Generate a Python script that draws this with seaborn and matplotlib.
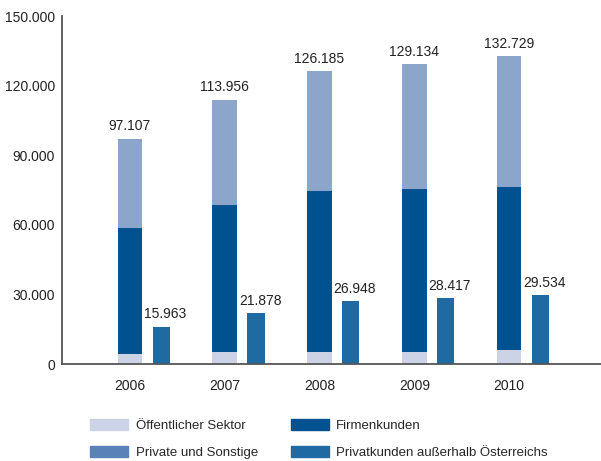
import matplotlib
matplotlib.use("Agg")
import matplotlib.pyplot as plt
import matplotlib.patches as mpatches
import seaborn as sns
import pandas as pd

years = [2006, 2007, 2008, 2009, 2010]
oeffentlich = [4400, 5300, 5300, 5300, 6200]
firmenkunden = [54300, 63300, 69300, 70200, 70200]
totals = [97107, 113956, 126185, 129134, 132729]
ausland = [15963, 21878, 26948, 28417, 29534]

labels = ["Öffentlicher Sektor", "Private und Sonstige", "Firmenkunden",
          "Privatkunden außerhalb Österreichs"]

c_oeff = "#cdd3e6"
c_priv = "#8ba6ca"
c_priv_leg = "#5b82b8"
c_firm = "#00518f"
c_ausl = "#206aa3"

df = pd.DataFrame({
    "year": years,
    "public": oeffentlich,
    "firm_top": [p + f for p, f in zip(oeffentlich, firmenkunden)],
    "total": totals,
    "ausland": ausland,
})
df["x_out"] = df["year"] + 0.33

sns.set_style("white")
plt.rcParams["font.family"] = ["Liberation Sans", "DejaVu Sans"]

fig = plt.figure(figsize=(6.01, 4.61), dpi=100)
ax = fig.add_axes([62 / 601, 97 / 461, 1 - 62 / 601, 348 / 461])

w_main = 0.26
w_out = 0.18
sns.barplot(data=df, x="year", y="total", native_scale=True, width=w_main,
            color=c_priv, saturation=1, linewidth=0, ax=ax)
sns.barplot(data=df, x="year", y="firm_top", native_scale=True, width=w_main,
            color=c_firm, saturation=1, linewidth=0, ax=ax)
sns.barplot(data=df, x="year", y="public", native_scale=True, width=w_main,
            color=c_oeff, saturation=1, linewidth=0, ax=ax)
sns.barplot(data=df, x="x_out", y="ausland", native_scale=True, width=w_out,
            color=c_ausl, saturation=1, linewidth=0, ax=ax)

fmt = lambda v: f"{v:,}".replace(",", ".")
for yr, t, a in zip(years, totals, ausland):
    ax.annotate(fmt(t), (yr, t), xytext=(0, 4), textcoords="offset points",
                ha="center", va="bottom", fontsize=10, color="#222222")
    ax.annotate(fmt(a), (yr + 0.33, a), xytext=(3, 4), textcoords="offset points",
                ha="center", va="bottom", fontsize=10, color="#222222")

ax.set_xlim(years[0] - 0.717, years[0] + 4.97)
ax.set_ylim(0, 150000)
ax.set_yticks(range(0, 150001, 30000))
ax.set_yticklabels([fmt(v) for v in range(0, 150001, 30000)], fontsize=10)
ax.set_xticks(years)
ax.set_xticklabels([str(y) for y in years], fontsize=10)
ax.set_xlabel("")
ax.set_ylabel("")

for s in ["top", "right"]:
    ax.spines[s].set_visible(False)
for s in ["left", "bottom"]:
    ax.spines[s].set_color("#555555")
    ax.spines[s].set_linewidth(1.3)
ax.tick_params(axis="y", direction="in", length=11, width=1.1, color="#555555",
               pad=5, labelcolor="#222222")
ax.tick_params(axis="x", length=0, pad=11, labelcolor="#222222")
ax.grid(False)

handles = [
    mpatches.Patch(color=c_oeff, label=labels[0]),
    mpatches.Patch(color=c_priv_leg, label=labels[1]),
    mpatches.Patch(color=c_firm, label=labels[2]),
    mpatches.Patch(color=c_ausl, label=labels[3]),
]
fig.legend(handles=handles, ncol=2, loc="upper left",
           bbox_to_anchor=(90 / 601, 1 - 419 / 461), frameon=False,
           fontsize=9.5, handlelength=2.9, handleheight=0.95,
           handletextpad=0.55, columnspacing=2.5, labelspacing=1.05,
           borderpad=0, borderaxespad=0)

fig.savefig("out.png", dpi=100)
